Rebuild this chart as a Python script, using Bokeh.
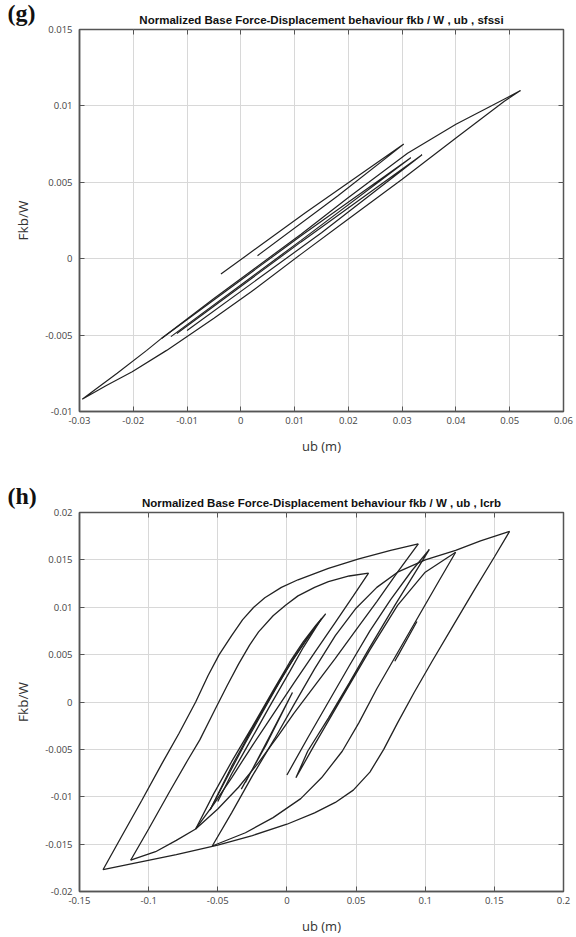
from bokeh.plotting import figure
from bokeh.layouts import column
from bokeh.models import FixedTicker, CustomJSTickFormatter, LinearAxis, Range1d, Title
from bokeh.embed import file_html
from bokeh.resources import INLINE

# ---------------- (g) sfssi ----------------
g_title = "Normalized Base Force-Displacement behaviour fkb / W , ub , sfssi"
g_xticks = [-0.03, -0.02, -0.01, 0.0, 0.01, 0.02, 0.03, 0.04, 0.05, 0.06]
g_xlabels = ["-0.03", "-0.02", "-0.01", "0", "0.01", "0.02", "0.03", "0.04", "0.05", "0.06"]
g_yticks = [-0.01, -0.005, 0.0, 0.005, 0.01, 0.015]
g_ylabels = ["-0.01", "-0.005", "0", "0.005", "0.01", "0.015"]

g_outer_x = [-0.0295, -0.0230, -0.0175, -0.0147, -0.0050, 0.0112, 0.0200, 0.0310, 0.0400, 0.0460, 0.0520,
             0.0490, 0.0400, 0.0300, 0.0200, 0.0112, 0.0018, -0.0050, -0.0138, -0.0202, -0.0250, -0.0295]
g_outer_y = [-0.0092, -0.0075, -0.0060, -0.0052, -0.0026, 0.0016, 0.0040, 0.0069, 0.0088, 0.0099, 0.0110,
             0.0103, 0.0079, 0.0052, 0.0026, 0.0003, -0.0022, -0.0039, -0.0060, -0.0074, -0.0083, -0.0092]
g_loop_a_x = [-0.0037, 0.0120, 0.0303, 0.0180, 0.0031]
g_loop_a_y = [-0.0010, 0.0030, 0.0075, 0.0041, 0.0002]
g_loop_b_x = [-0.0147, 0.0112, 0.0316, 0.0112, -0.0130]
g_loop_b_y = [-0.0052, 0.0015, 0.0066, 0.0012, -0.0051]
g_loop_c_x = [-0.0119, 0.0112, 0.0337, 0.0150, -0.0100]
g_loop_c_y = [-0.0049, 0.0011, 0.0068, 0.0017, -0.0047]

# ---------------- (h) lcrb ----------------
h_title = "Normalized Base Force-Displacement behaviour fkb / W , ub , lcrb"
h_xticks = [-0.15, -0.1, -0.05, 0.0, 0.05, 0.1, 0.15, 0.2]
h_xlabels = ["-0.15", "-0.1", "-0.05", "0", "0.05", "0.1", "0.15", "0.2"]
h_yticks = [-0.02, -0.015, -0.01, -0.005, 0.0, 0.005, 0.01, 0.015, 0.02]
h_ylabels = ["-0.02", "-0.015", "-0.01", "-0.005", "0", "0.005", "0.01", "0.015", "0.02"]

h_s1_x = [-0.133, -0.120, -0.105, -0.090, -0.078, -0.066, -0.057, -0.049, -0.040, -0.032, -0.024, -0.016,
          -0.004, 0.008, 0.030, 0.052, 0.075, 0.095]
h_s1_y = [-0.0177, -0.0143, -0.0104, -0.0064, -0.0033, 0.0000, 0.0028, 0.0050, 0.0070, 0.0087, 0.0100, 0.0110,
          0.0121, 0.0129, 0.0141, 0.0151, 0.0160, 0.0167]
h_s2_x = [0.095, 0.080, 0.065, 0.050, 0.035, 0.020, 0.005, -0.006, -0.020, -0.035, -0.050, -0.066, -0.080,
          -0.095, -0.113]
h_s2_y = [0.0167, 0.0137, 0.0106, 0.0076, 0.0046, 0.0017, -0.0012, -0.0035, -0.0063, -0.0090, -0.0113, -0.0134,
          -0.0146, -0.0158, -0.0167]
h_s3_x = [-0.113, -0.100, -0.085, -0.072, -0.063, -0.052, -0.043, -0.035, -0.027, -0.0205, -0.010, -0.001,
          0.008, 0.020, 0.030, 0.045, 0.059]
h_s3_y = [-0.0167, -0.0134, -0.0095, -0.0062, -0.0040, -0.0008, 0.0018, 0.0040, 0.0060, 0.0074, 0.0091, 0.0102,
          0.0112, 0.0121, 0.0127, 0.0133, 0.0136]
h_s4_x = [0.059, 0.048, 0.035, 0.020, 0.005, -0.010, -0.025, -0.040, -0.053, -0.066]
h_s4_y = [0.0136, 0.0112, 0.0084, 0.0052, 0.0020, -0.0013, -0.0046, -0.0080, -0.0108, -0.0134]
h_s5_x = [-0.066, -0.053, -0.040, -0.025, -0.010, 0.002, 0.012, 0.021, 0.028, 0.018, 0.005, -0.010, -0.025,
          -0.040, -0.0556]
h_s5_y = [-0.0134, -0.0097, -0.0063, -0.0026, 0.0012, 0.0042, 0.0064, 0.0081, 0.0093, 0.0074, 0.0046, 0.0010,
          -0.0028, -0.0068, -0.0114]
h_s6_x = [-0.0556, -0.042, -0.030, -0.015, 0.000, 0.013, 0.025, 0.012, 0.002, -0.013, -0.028, -0.040, -0.050]
h_s6_y = [-0.0114, -0.0076, -0.0043, -0.0004, 0.0035, 0.0064, 0.0088, 0.0058, 0.0032, -0.0006, -0.0045, -0.0076,
          -0.0105]
h_s7_x = [-0.033, -0.015, 0.004, -0.012, -0.030]
h_s7_y = [-0.0092, -0.0045, 0.0010, -0.0035, -0.0085]
h_s8_x = [0.000, 0.015, 0.030, 0.045, 0.060, 0.075, 0.090, 0.103, 0.092, 0.078, 0.060, 0.045, 0.030, 0.015,
          0.0065, 0.020, 0.040, 0.060, 0.080, 0.100, 0.122]
h_s8_y = [-0.0077, -0.0038, 0.0000, 0.0038, 0.0075, 0.0108, 0.0138, 0.0161, 0.0135, 0.0102, 0.0058, 0.0020,
          -0.0017, -0.0052, -0.0080, -0.0045, 0.0005, 0.0055, 0.0102, 0.0137, 0.0158]
h_s9_x = [0.122, 0.110, 0.095, 0.080, 0.065, 0.052, 0.040, 0.025, 0.010, -0.010, -0.030, -0.054]
h_s9_y = [0.0158, 0.0128, 0.0090, 0.0052, 0.0014, -0.0022, -0.0052, -0.0080, -0.0102, -0.0122, -0.0138, -0.0152]
h_s10_x = [-0.054, -0.040, -0.025, -0.009, 0.005, 0.020, 0.035, 0.050, 0.065, 0.080, 0.100, 0.122, 0.140, 0.161]
h_s10_y = [-0.0152, -0.0117, -0.0078, -0.0039, -0.0003, 0.0035, 0.0070, 0.0099, 0.0121, 0.0137, 0.0150, 0.0160,
           0.0170, 0.0180]
h_s11_x = [0.161, 0.150, 0.135, 0.120, 0.105, 0.092, 0.080, 0.070, 0.060, 0.048, 0.035, 0.020, 0.000, -0.025,
           -0.050, -0.080, -0.110, -0.133]
h_s11_y = [0.0180, 0.0153, 0.0117, 0.0080, 0.0043, 0.0010, -0.0022, -0.0050, -0.0074, -0.0093, -0.0106, -0.0117,
           -0.0129, -0.0141, -0.0151, -0.0161, -0.0170, -0.0177]
h_s12_x = [0.078, 0.094, 0.080]
h_s12_y = [0.0043, 0.0085, 0.0048]

FMT_CODE = """
let best = 0; let d = Infinity;
for (let i = 0; i < tv.length; i++) {
  const e = Math.abs(tv[i] - tick);
  if (e < d) { d = e; best = i; }
}
return lb[best];
"""

AX_COLOR = "#555555"
TICK_FONT = "Open Sans"


def make_fig(height, top, bottom, xr, yr, xt, xl, yt, yl, title, tag):
    p = figure(width=576, height=height, x_range=Range1d(*xr), y_range=Range1d(*yr),
               output_backend="svg", toolbar_location=None,
               min_border_left=79, min_border_right=13, min_border_top=top, min_border_bottom=bottom)
    p.outline_line_color = AX_COLOR
    p.outline_line_width = 1.5
    p.outline_line_alpha = 1.0

    p.xaxis.ticker = FixedTicker(ticks=xt)
    p.yaxis.ticker = FixedTicker(ticks=yt)
    p.xaxis.formatter = CustomJSTickFormatter(args=dict(tv=xt, lb=xl), code=FMT_CODE)
    p.yaxis.formatter = CustomJSTickFormatter(args=dict(tv=yt, lb=yl), code=FMT_CODE)
    p.xgrid.ticker = FixedTicker(ticks=xt)
    p.ygrid.ticker = FixedTicker(ticks=yt)
    for g in (p.xgrid, p.ygrid):
        g.grid_line_color = "#d8d8d8"
        g.grid_line_width = 1

    for ax in (p.xaxis, p.yaxis):
        ax.axis_line_color = AX_COLOR
        ax.axis_line_width = 1.5
        ax.major_tick_in = 5
        ax.major_tick_out = 0
        ax.major_tick_line_color = AX_COLOR
        ax.minor_tick_line_color = None
        ax.major_label_text_font = TICK_FONT
        ax.major_label_text_font_size = "9.5px"
        ax.major_label_text_color = "#444444"
        ax.axis_label_text_font = TICK_FONT
        ax.axis_label_text_font_style = "normal"
        ax.axis_label_text_color = "#333333"
    p.xaxis.axis_label = "ub (m)"
    p.yaxis.axis_label = "Fkb/W"
    p.xaxis.axis_label_text_font_size = "13px"
    p.yaxis.axis_label_text_font_size = "13.5px"
    p.xaxis.major_label_standoff = 5
    p.yaxis.major_label_standoff = 7
    p.xaxis.axis_label_standoff = 10
    p.yaxis.axis_label_standoff = 10

    # top edge: inward ticks, and the chart title carried as this axis' label
    top_ax = LinearAxis(ticker=FixedTicker(ticks=xt),
                        formatter=CustomJSTickFormatter(code="return ''"),
                        major_tick_in=5, major_tick_out=0, major_label_standoff=0,
                        major_label_text_font_size="0px", axis_line_color=None,
                        major_tick_line_color=AX_COLOR, minor_tick_line_color=None,
                        axis_label=title, axis_label_standoff=4,
                        axis_label_text_font="Liberation Sans", axis_label_text_font_style="bold",
                        axis_label_text_font_size="11.5px", axis_label_text_color="#111111")
    p.add_layout(top_ax, "above")
    right_ax = LinearAxis(ticker=FixedTicker(ticks=yt),
                          formatter=CustomJSTickFormatter(code="return ''"),
                          major_tick_in=5, major_tick_out=0, major_label_standoff=0,
                          major_label_text_font_size="0px", axis_line_color=None,
                          major_tick_line_color=AX_COLOR, minor_tick_line_color=None)
    p.add_layout(right_ax, "right")

    # panel tag, e.g. "(g)"
    p.add_layout(Title(text=tag, align="left", offset=-72, standoff=-30, text_font="Liberation Serif",
                       text_font_style="bold", text_font_size="24px", text_color="#111111"), "above")
    return p


LC = "#222222"
p1 = make_fig(468, 29, 57, (-0.03, 0.06), (-0.01, 0.015), g_xticks, g_xlabels, g_yticks, g_ylabels, g_title, "(g)")
for xs, ys in ((g_outer_x, g_outer_y), (g_loop_a_x, g_loop_a_y), (g_loop_b_x, g_loop_b_y), (g_loop_c_x, g_loop_c_y)):
    p1.line(xs, ys, line_color=LC, line_width=1.2)

p2 = make_fig(469, 44, 44, (-0.15, 0.2), (-0.02, 0.02), h_xticks, h_xlabels, h_yticks, h_ylabels, h_title, "(h)")
for xs, ys in ((h_s1_x, h_s1_y), (h_s2_x, h_s2_y), (h_s3_x, h_s3_y), (h_s4_x, h_s4_y), (h_s5_x, h_s5_y),
               (h_s6_x, h_s6_y), (h_s7_x, h_s7_y), (h_s8_x, h_s8_y), (h_s9_x, h_s9_y), (h_s10_x, h_s10_y),
               (h_s11_x, h_s11_y), (h_s12_x, h_s12_y)):
    p2.line(xs, ys, line_color=LC, line_width=1.3)

layout = column(p1, p2, spacing=0)
open("out.html", "w").write(file_html(layout, INLINE))
